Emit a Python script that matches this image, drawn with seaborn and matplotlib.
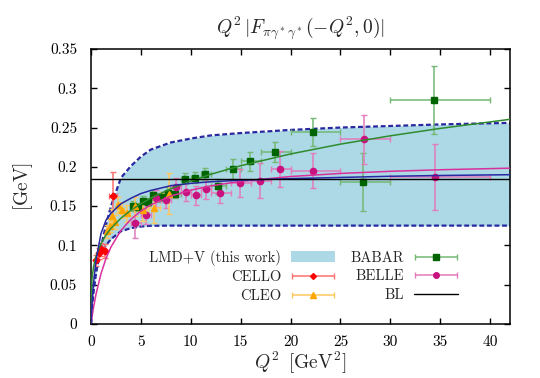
import numpy as np
import pandas as pd
import seaborn as sns
import matplotlib.pyplot as plt
from matplotlib.patches import Patch
from matplotlib.lines import Line2D
from matplotlib.container import ErrorbarContainer
from matplotlib.legend_handler import HandlerErrorbar

# --- model curves (Q^2 in GeV^2, Q^2|F| in GeV) ---
q_curve = [0, 0.1, 0.25, 0.5, 1, 1.5, 2, 3, 4, 5, 6, 8, 10, 12, 15, 20, 25, 30, 35, 42]
band_upper = [0, 0.022, 0.040, 0.064, 0.098, 0.126, 0.150, 0.186, 0.201, 0.213, 0.222,
              0.231, 0.236, 0.240, 0.243, 0.247, 0.250, 0.252, 0.254, 0.256]
band_lower = [0, 0.026, 0.048, 0.070, 0.090, 0.100, 0.108, 0.118, 0.122, 0.124, 0.125,
              0.1252, 0.1252, 0.1252, 0.1252, 0.1252, 0.1252, 0.1252, 0.1252, 0.1252]
lmdv_central = [0, 0.024, 0.051, 0.081, 0.115, 0.132, 0.141, 0.153, 0.160, 0.166, 0.170,
                0.176, 0.179, 0.181, 0.183, 0.185, 0.1865, 0.188, 0.189, 0.190]
babar_fit = [0, 0.0576, 0.0724, 0.0861, 0.1023, 0.1133, 0.1217, 0.1347, 0.1447, 0.1530, 0.1602,
             0.1721, 0.182, 0.1905, 0.2014, 0.2164, 0.2289, 0.2395, 0.2489, 0.2605]
belle_fit = [0, 0.0088, 0.0207, 0.0377, 0.0639, 0.0832, 0.0979, 0.1190, 0.1333, 0.1437, 0.1516,
             0.1628, 0.1703, 0.1758, 0.1815, 0.1877, 0.1916, 0.1943, 0.1963, 0.1983]
bl_x = [0, 42]
bl_y = [0.185, 0.185]

# --- experimental data ---
cello_q = [0.54, 0.78, 1.04, 1.36, 2.17]
cello_v = [0.081, 0.090, 0.095, 0.093, 0.163]
cello_dv = [0.007, 0.007, 0.008, 0.009, 0.031]
cello_dq = [0.07, 0.10, 0.13, 0.17, 0.40]

cleo_q = [1.64, 1.88, 2.13, 2.37, 2.66, 3.08, 3.62, 4.37, 5.26, 6.32, 7.83]
cleo_v = [0.118, 0.125, 0.137, 0.130, 0.151, 0.145, 0.141, 0.150, 0.145, 0.147, 0.166]
cleo_dv = [0.008, 0.008, 0.009, 0.009, 0.010, 0.010, 0.011, 0.012, 0.014, 0.018, 0.026]
cleo_dq = [0.12, 0.12, 0.12, 0.12, 0.15, 0.25, 0.30, 0.40, 0.50, 0.60, 0.90]

babar_q = [4.24, 4.74, 5.24, 5.74, 6.24, 6.74, 7.24, 7.74, 8.45, 9.45, 10.45, 11.45,
           12.7, 14.2, 15.9, 18.4, 22.3, 27.3, 34.4]
babar_lo = [4, 4.5, 5, 5.5, 6, 6.5, 7, 7.5, 8, 9, 10, 11, 12, 13.5, 15, 17, 20, 25, 30]
babar_hi = [4.5, 5, 5.5, 6, 6.5, 7, 7.5, 8, 9, 10, 11, 12, 13.5, 15, 17, 20, 25, 30, 40]
babar_v = [0.150, 0.149, 0.157, 0.155, 0.164, 0.161, 0.162, 0.167, 0.166, 0.185, 0.186, 0.191,
           0.175, 0.197, 0.207, 0.219, 0.2445, 0.181, 0.285]
babar_dv = [0.006, 0.005, 0.006, 0.005, 0.006, 0.006, 0.006, 0.007, 0.006, 0.007, 0.007, 0.008,
            0.009, 0.0125, 0.012, 0.0125, 0.018, 0.037, 0.043]

belle_q = [4.46, 5.47, 6.47, 7.47, 8.48, 9.48, 10.48, 11.48, 12.94, 14.94, 16.95, 18.96,
           22.29, 27.33, 34.46]
belle_lo = [4, 5, 6, 7, 8, 9, 10, 11, 12, 14, 16, 18, 20, 25, 30]
belle_hi = [5, 6, 7, 8, 9, 10, 11, 12, 14, 16, 18, 20, 25, 30, 40]
belle_v = [0.128, 0.139, 0.160, 0.158, 0.174, 0.168, 0.164, 0.172, 0.167, 0.179, 0.1825, 0.197,
           0.195, 0.235, 0.187]
belle_dv = [0.019, 0.012, 0.011, 0.011, 0.012, 0.012, 0.012, 0.013, 0.013, 0.018, 0.022, 0.023,
            0.022, 0.031, 0.042]

sns.set_theme(style="ticks")
plt.rcParams['font.family'] = ['cmr10', 'DejaVu Serif']
plt.rcParams['mathtext.fontset'] = 'cm'
plt.rcParams['axes.formatter.use_mathtext'] = True
plt.rcParams['axes.unicode_minus'] = False

fig, ax = plt.subplots(figsize=(5.4, 3.78), dpi=100)
fig.subplots_adjust(left=0.1685, right=0.9444, bottom=0.1429, top=0.8704)

navy = '#2828a0'
c_babar = '#006400'
c_babar_line = '#2e8b2e'
c_belle = '#c8137f'
c_belle_line = '#d8309c'
c_cello = '#ff0000'
c_cleo = '#ffa500'

curves = pd.DataFrame({'q': q_curve, 'up': band_upper, 'lo': band_lower,
                       'lmdv': lmdv_central, 'babar': babar_fit, 'belle': belle_fit})

ax.fill_between(curves['q'], curves['lo'], curves['up'], color='#add8e6', lw=0, zorder=1)
sns.lineplot(data=curves, x='q', y='up', ax=ax, color=navy, lw=1.6, ls=(0, (2.2, 1.2)),
             estimator=None, sort=False, zorder=2)
sns.lineplot(data=curves, x='q', y='lo', ax=ax, color=navy, lw=1.6, ls=(0, (2.2, 1.2)),
             estimator=None, sort=False, zorder=2)


def data_set(q, v, dv, xerr, color, ecolor, marker, ms):
    ax.errorbar(q, v, yerr=dv, xerr=xerr, fmt=marker, color=color, ecolor=ecolor,
                ms=ms, elinewidth=1.1, capsize=2.5, capthick=1.0, zorder=4)


ebabar = [np.array(babar_q) - np.array(babar_lo), np.array(babar_hi) - np.array(babar_q)]
ebelle = [np.array(belle_q) - np.array(belle_lo), np.array(belle_hi) - np.array(belle_q)]
data_set(babar_q, babar_v, babar_dv, ebabar, c_babar, '#74b874', 's', 4.5)
data_set(belle_q, belle_v, belle_dv, ebelle, c_belle, '#e27cbc', 'o', 4.5)
data_set(cello_q, cello_v, cello_dv, cello_dq, c_cello, '#ff7070', 'D', 3.5)
data_set(cleo_q, cleo_v, cleo_dv, cleo_dq, c_cleo, '#ffc860', '^', 4.5)

sns.lineplot(data=curves, x='q', y='babar', ax=ax, color=c_babar_line, lw=1.1,
             estimator=None, sort=False, zorder=5)
sns.lineplot(data=curves, x='q', y='belle', ax=ax, color=c_belle_line, lw=1.1,
             estimator=None, sort=False, zorder=5)
sns.lineplot(data=curves, x='q', y='lmdv', ax=ax, color=navy, lw=1.1,
             estimator=None, sort=False, zorder=5)
sns.lineplot(x=bl_x, y=bl_y, ax=ax, color='black', lw=1.0, estimator=None, zorder=5)

ax.set_xlim(0, 42)
ax.set_ylim(0, 0.35)
xt = [0, 5, 10, 15, 20, 25, 30, 35, 40]
yt = [0, 0.05, 0.1, 0.15, 0.2, 0.25, 0.3, 0.35]
ax.set_xticks(xt)
ax.set_xticklabels([str(t) for t in xt])
ax.set_yticks(yt)
ax.set_yticklabels(['0', '0.05', '0.1', '0.15', '0.2', '0.25', '0.3', '0.35'])
ax.tick_params(direction='in', top=True, right=True, length=4, width=1, labelsize=11,
               colors='black')
ax.tick_params(axis='y', pad=10)
ax.tick_params(axis='x', pad=8)
for s in ax.spines.values():
    s.set_visible(True)
    s.set_linewidth(1.1)
    s.set_color('black')

ax.set_xlabel(r'$Q^2\ \,[\mathrm{GeV}^2]$', fontsize=14, labelpad=1)
ax.set_ylabel(r'$[\mathrm{GeV}]$', fontsize=14, labelpad=11)
ax.set_title(r'$Q^2\,|F_{\pi\gamma^*\gamma^*}(-Q^2,0)|$', fontsize=14, pad=11)

# legend proxies (horizontal bars only, like the reference)
def proxy(color, ecolor, marker, ms):
    return ax.errorbar([np.nan], [np.nan], xerr=[1.0], fmt=marker, color=color, ecolor=ecolor,
                       ms=ms, elinewidth=1.1, capsize=2.5, capthick=1.0)


handles = [Patch(facecolor='#add8e6', edgecolor='none'),
           proxy(c_cello, '#ff7070', 'D', 3.0),
           proxy(c_cleo, '#ffc860', '^', 4.0),
           proxy(c_babar, '#74b874', 's', 4.0),
           proxy(c_belle, '#e27cbc', 'o', 4.0),
           Line2D([], [], color='black', lw=1.0)]
labels = ['LMD+V (this work)', 'CELLO', 'CLEO', 'BABAR', 'BELLE', 'BL']
ax.legend(handles, labels, ncol=2, markerfirst=False, frameon=False, fontsize=10.5,
          loc='upper right', bbox_to_anchor=(0.907, 0.318), handlelength=3.0,
          handletextpad=0.7, columnspacing=1.05, labelspacing=0.35,
          handler_map={ErrorbarContainer: HandlerErrorbar(xerr_size=1.45)})

fig.savefig('out.png', dpi=100)
